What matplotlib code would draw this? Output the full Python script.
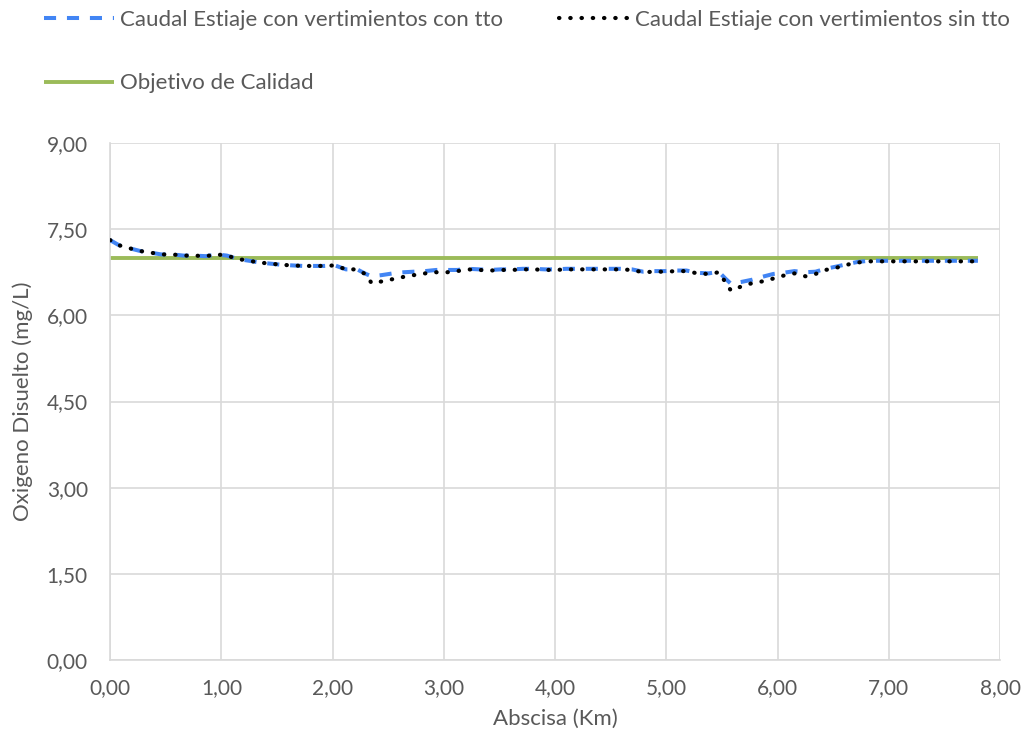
import matplotlib
matplotlib.use("Agg")
import matplotlib.pyplot as plt
from matplotlib.ticker import FuncFormatter, MultipleLocator

plt.rcParams['font.family'] = ['Lato', 'DejaVu Sans']

abscisa = [0.00, 0.08, 0.17, 0.27, 0.37, 0.46, 0.56, 0.66, 0.76, 0.86, 0.96, 1.05,
           1.15, 1.25, 1.34, 1.44, 1.54, 1.63, 1.73, 1.83, 1.93, 2.02, 2.12, 2.22,
           2.30, 2.35, 2.44, 2.54, 2.64, 2.73, 2.83, 2.93, 3.03, 3.12, 3.22, 3.32,
           3.42, 3.51, 3.61, 3.71, 3.81, 3.91, 4.00, 4.10, 4.20, 4.30, 4.40, 4.49,
           4.59, 4.69, 4.79, 4.89, 4.99, 5.09, 5.18, 5.28, 5.38, 5.47, 5.53, 5.58,
           5.67, 5.77, 5.86, 5.96, 6.05, 6.15, 6.25, 6.34, 6.43, 6.53, 6.62, 6.72,
           6.82, 6.91, 7.01, 7.11, 7.21, 7.31, 7.41, 7.50, 7.60, 7.70, 7.80]

od_sin_tto = [7.31, 7.22, 7.17, 7.12, 7.09, 7.06, 7.06, 7.04, 7.04, 7.03, 7.06, 7.04,
              6.98, 6.95, 6.92, 6.90, 6.88, 6.87, 6.86, 6.86, 6.86, 6.87, 6.80, 6.80,
              6.71, 6.56, 6.59, 6.63, 6.67, 6.70, 6.73, 6.75, 6.75, 6.77, 6.80, 6.79,
              6.78, 6.79, 6.79, 6.80, 6.80, 6.79, 6.79, 6.80, 6.80, 6.80, 6.80, 6.80,
              6.80, 6.79, 6.75, 6.76, 6.76, 6.77, 6.77, 6.73, 6.72, 6.75, 6.58, 6.43,
              6.50, 6.56, 6.59, 6.64, 6.69, 6.73, 6.68, 6.72, 6.79, 6.83, 6.88, 6.92,
              6.94, 6.94, 6.94, 6.94, 6.94, 6.94, 6.94, 6.94, 6.94, 6.94, 6.94]

od_con_tto = [7.31, 7.22, 7.17, 7.12, 7.09, 7.06, 7.06, 7.04, 7.04, 7.03, 7.06, 7.04,
              6.98, 6.95, 6.92, 6.90, 6.88, 6.87, 6.86, 6.86, 6.86, 6.87, 6.80, 6.80,
              6.72, 6.68, 6.70, 6.73, 6.75, 6.76, 6.77, 6.79, 6.79, 6.79, 6.81, 6.80,
              6.79, 6.80, 6.80, 6.81, 6.81, 6.80, 6.80, 6.81, 6.81, 6.81, 6.81, 6.81,
              6.81, 6.80, 6.76, 6.77, 6.77, 6.78, 6.78, 6.74, 6.73, 6.76, 6.64, 6.55,
              6.58, 6.62, 6.67, 6.72, 6.74, 6.77, 6.75, 6.76, 6.81, 6.85, 6.89, 6.93,
              6.95, 6.95, 6.95, 6.95, 6.95, 6.95, 6.95, 6.95, 6.95, 6.95, 6.95]

objetivo_x = [0.00, 7.80]
objetivo_y = [7.00, 7.00]

labels = ["Caudal Estiaje con vertimientos con tto",
          "Caudal Estiaje con vertimientos sin tto",
          "Objetivo de Calidad"]

fig = plt.figure(figsize=(10.29, 7.33), dpi=100)
ax = fig.add_axes([0.107, 0.0996, 0.865, 0.7053])

l_obj, = ax.plot(objetivo_x, objetivo_y, color="#9BBB59", lw=2.8, solid_capstyle='butt', zorder=2)
l_con, = ax.plot(abscisa, od_con_tto, color="#4285F4", lw=2.9, dashes=(3.0, 2.7), zorder=3)
l_sin, = ax.plot(abscisa, od_sin_tto, color="black", lw=3.0, linestyle=(0, (0.1, 2.6)),
                 dash_capstyle='round', zorder=4)

ax.set_xlim(0, 8)
ax.set_ylim(0, 9)
ax.xaxis.set_major_locator(MultipleLocator(1))
ax.yaxis.set_major_locator(MultipleLocator(1.5))
fmt = FuncFormatter(lambda v, p: f"{v:.2f}".replace(".", ","))
ax.xaxis.set_major_formatter(fmt)
ax.yaxis.set_major_formatter(fmt)
ax.grid(True, color="#D9D9D9", lw=1.2)
ax.set_axisbelow(True)
for s in ["top", "right"]:
    ax.spines[s].set_visible(False)
for s in ["left", "bottom"]:
    ax.spines[s].set_color("#D9D9D9")
    ax.spines[s].set_linewidth(1.2)
ax.tick_params(length=0, colors="#595959", labelsize=15)
ax.tick_params(axis='y', pad=16)
ax.tick_params(axis='x', pad=13)
ax.set_xlabel("Abscisa (Km)", color="#595959", fontsize=16, labelpad=8)
ax.set_ylabel("Oxigeno Disuelto (mg/L)", color="#595959", fontsize=16, labelpad=10)

leg = fig.legend([l_con, l_obj, l_sin], [labels[0], labels[2], labels[1]],
                 ncol=2, loc="upper left", bbox_to_anchor=(0.033, 1.0),
                 frameon=False, fontsize=16, handlelength=3.15, handletextpad=0.25,
                 labelspacing=1.95, columnspacing=2.55, labelcolor="#595959",
                 borderaxespad=0.05)

fig.savefig("out.png", dpi=100)
